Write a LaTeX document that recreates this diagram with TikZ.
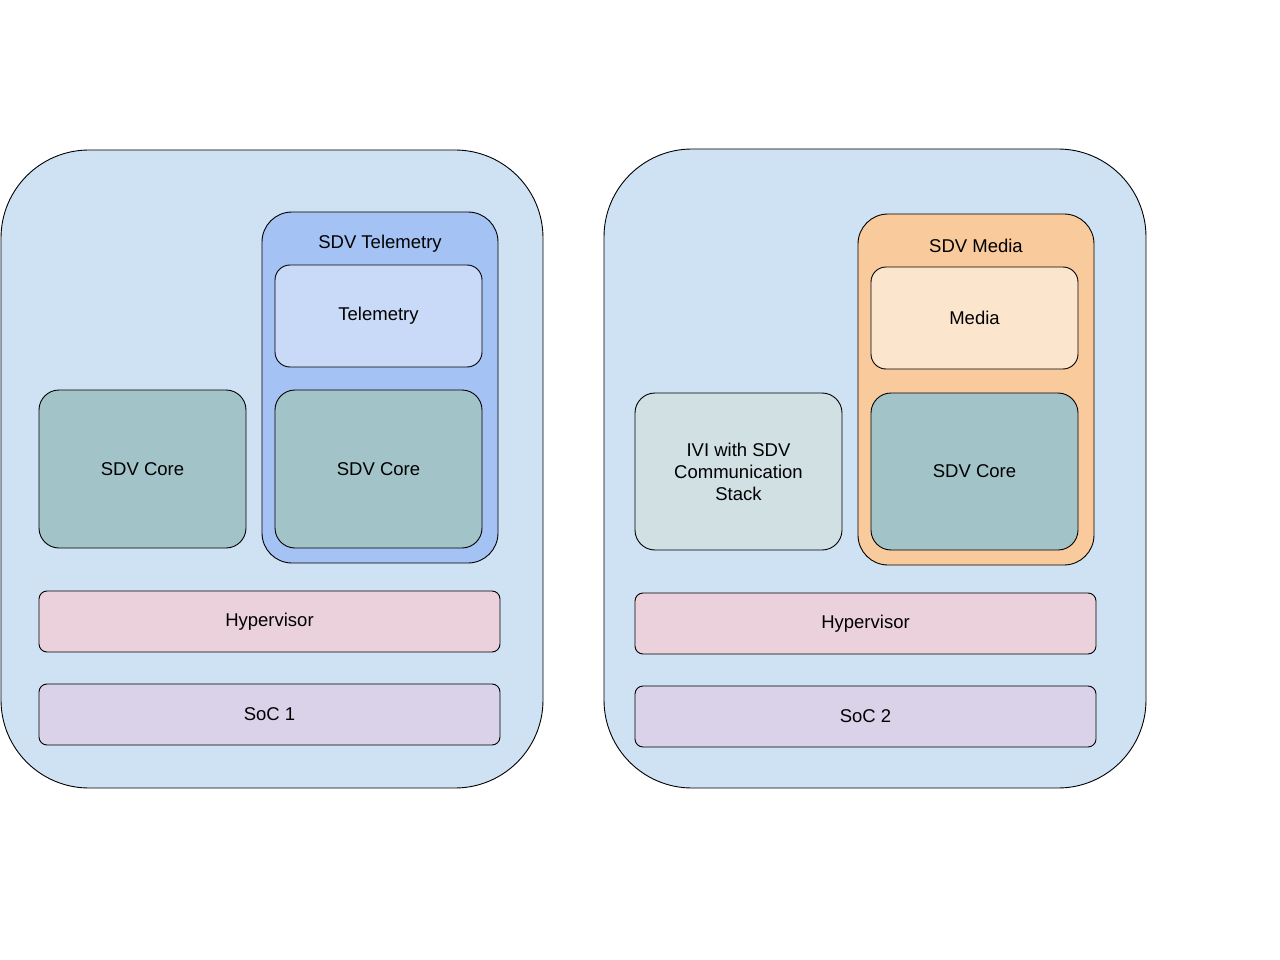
\documentclass[tikz,border=0pt]{standalone}
\usepackage{fontspec}
\setmainfont{Liberation Sans}
\usepackage{tikz}
\usetikzlibrary{positioning}
\usepackage{xcolor}
\definecolor{socblue}{HTML}{CFE2F3}
\definecolor{telbox}{HTML}{A4C2F4}
\definecolor{telinner}{HTML}{C9DAF8}
\definecolor{coreteal}{HTML}{A2C4C9}
\definecolor{hyppink}{HTML}{EAD1DC}
\definecolor{soclilac}{HTML}{D9D2E9}
\definecolor{mediabox}{HTML}{F9CB9C}
\definecolor{mediainner}{HTML}{FCE5CD}
\definecolor{iviblue}{HTML}{D0E0E3}

\begin{document}
\begin{tikzpicture}[x=1pt,y=-1pt,
    every node/.style={font=\fontsize{18.5pt}{22pt}\selectfont,inner sep=0pt,align=center},
    outer/.style={draw=black,fill=socblue,line width=0.9pt,rounded corners=88pt,minimum width=542pt,minimum height=638pt},
    group/.style={draw=black,line width=0.9pt,rounded corners=30pt,minimum width=236pt,minimum height=351pt},
    app/.style={draw=black,line width=0.9pt,rounded corners=15pt,minimum width=207pt,minimum height=102pt},
    vm/.style={draw=black,line width=0.9pt,rounded corners=20pt,minimum width=207pt,minimum height=158pt},
    layer/.style={draw=black,line width=0.9pt,rounded corners=8pt,minimum width=461pt,minimum height=61pt}]

        \useasboundingbox (0,0) rectangle (1280,960);

        % SoC 1
        \node[outer] (soc1box) at (272,469) {};
        \node[group,fill=telbox,label={[anchor=center,yshift=-32.5pt]north:{SDV Telemetry}}] (telgroup) at (380,387.5) {};
        \node[app,fill=telinner] (tel) at (378.5,316) {Telemetry};
        \node[vm,fill=coreteal] (core2) at (378.5,469) {SDV Core};
        \node[vm,fill=coreteal] (core1) at (142.5,469) {SDV Core};
        \node[layer,fill=hyppink] (hyp1) at (269.5,621.5) {Hypervisor};
        \node[layer,fill=soclilac] (soc1) at (269.5,714.5) {SoC 1};

        % SoC 2
        \node[outer,minimum height=639pt] (soc2box) at (875,468.5) {};
        \node[group,fill=mediabox,label={[anchor=center,yshift=-32.5pt]north:{SDV Media}}] (mediagroup) at (976,389.5) {};
        \node[app,fill=mediainner] (media) at (974.5,318) {Media};
        \node[vm,fill=coreteal,minimum height=157pt] (core3) at (974.5,471.5) {SDV Core};
        \node[vm,fill=iviblue,minimum height=157pt] (ivi) at (738.5,471.5) {IVI with SDV\\Communication\\Stack};
        \node[layer,fill=hyppink] (hyp2) at (865.5,623.5) {Hypervisor};
        \node[layer,fill=soclilac] (soc2) at (865.5,716.5) {SoC 2};
    \end{tikzpicture}
\end{document}
